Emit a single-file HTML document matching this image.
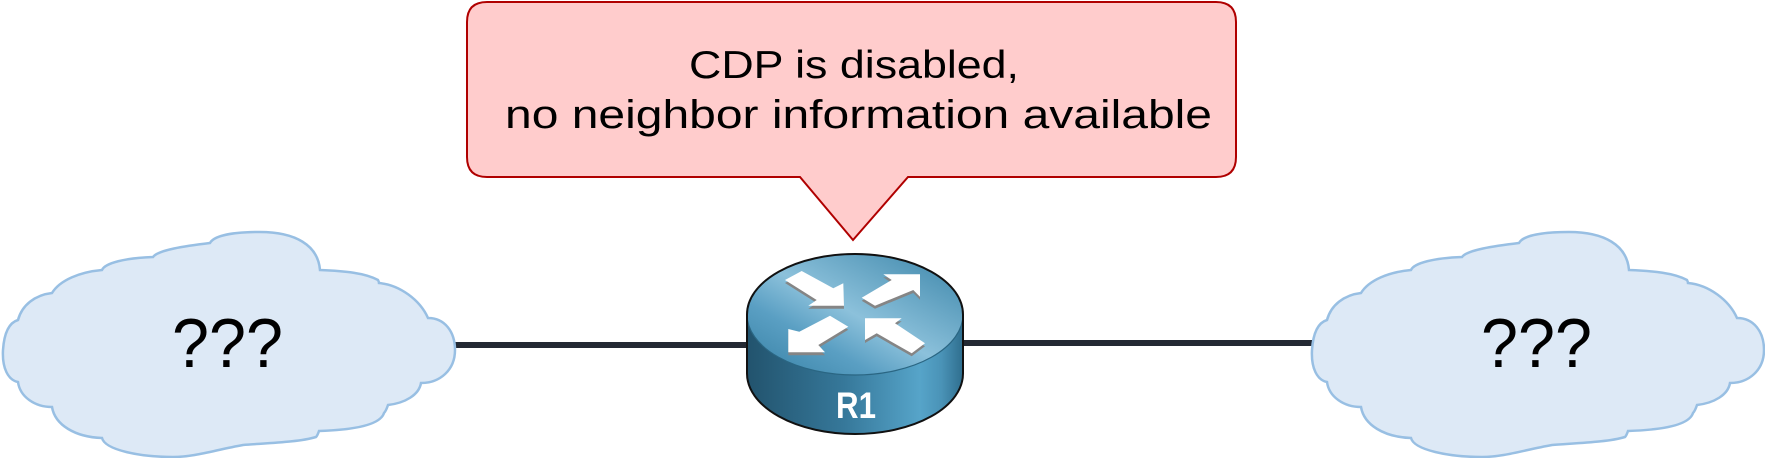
<!DOCTYPE html>
<html>
<head>
<meta charset="utf-8">
<style>
html,body{margin:0;padding:0;background:#fff;}
svg{display:block;}
</style>
</head>
<body>
<svg width="1765" height="458" viewBox="0 0 1765 458" xmlns="http://www.w3.org/2000/svg">
  <defs>
    <linearGradient id="side" x1="0" y1="0" x2="1" y2="0">
      <stop offset="0" stop-color="#22536d"/>
      <stop offset="0.45" stop-color="#36789a"/>
      <stop offset="0.8" stop-color="#56a4c9"/>
      <stop offset="0.9" stop-color="#4a93b7"/>
      <stop offset="1" stop-color="#2f6e8e"/>
    </linearGradient>
    <linearGradient id="top" x1="0" y1="1" x2="1" y2="0">
      <stop offset="0" stop-color="#3680a4"/>
      <stop offset="0.3" stop-color="#5a9fc3"/>
      <stop offset="0.5" stop-color="#8cc1db"/>
      <stop offset="1" stop-color="#3a84a8"/>
    </linearGradient>
    <g id="cloud">
      <path d="M 52,293
        C 60,280 80,272 102,270
        C 105,263 125,258 153,257
        C 158,250 185,246 210,243
        C 215,234 240,232 260,232
        C 295,232 318,245 320,270
        C 345,271 365,273 378,280
        C 379,282 379,283 379,283
        C 400,285 420,300 428,318
        C 445,318 455,332 455,350
        C 455,370 440,383 421,383
        C 419,395 405,403 388,405
        C 387,408 386,411 384,413
        C 380,426 350,430 319,431
        C 318,434 317,436 316,437
        C 300,442 270,443 243,445
        C 215,450 195,457 173,457
        C 140,457 105,450 102,438
        C 75,437 55,425 52,407
        C 35,407 20,397 18,382
        C 8,380 2,368 3,350
        C 4,335 8,323 18,320
        C 22,305 35,295 52,293 Z"
        fill="#dde9f6" stroke="#98bfe3" stroke-width="2.5"/>
    </g>
  </defs>

  <!-- connectors -->
  <line x1="450" y1="345" x2="752" y2="345" stroke="#232933" stroke-width="6"/>
  <line x1="958" y1="343" x2="1316" y2="343" stroke="#232933" stroke-width="6"/>

  <!-- clouds -->
  <use href="#cloud"/>
  <use href="#cloud" transform="translate(1309,0)"/>
  <text x="172" y="367" font-family="Liberation Sans, sans-serif" font-size="70" fill="#000" textLength="111" lengthAdjust="spacingAndGlyphs">???</text>
  <text x="1481" y="367" font-family="Liberation Sans, sans-serif" font-size="70" fill="#000" textLength="111" lengthAdjust="spacingAndGlyphs">???</text>

  <!-- callout -->
  <path d="M 487,2 H 1216 Q 1236,2 1236,22 V 157 Q 1236,177 1216,177 H 908 L 853,240 L 800,177 H 487 Q 467,177 467,157 V 22 Q 467,2 487,2 Z"
        fill="#ffcccc" stroke="#b00000" stroke-width="2"/>
  <text x="689" y="78" font-family="Liberation Sans, sans-serif" font-size="39" fill="#000" textLength="330" lengthAdjust="spacingAndGlyphs">CDP is disabled,</text>
  <text x="505" y="128" font-family="Liberation Sans, sans-serif" font-size="40" fill="#000" textLength="707" lengthAdjust="spacingAndGlyphs">no neighbor information available</text>

  <!-- router -->
  <path d="M 747,314.5 V 373.5 A 108,60.5 0 0 0 963,373.5 V 314.5 Z" fill="url(#side)"/>
  <ellipse cx="855" cy="314.5" rx="108" ry="60.5" fill="url(#top)"/>
  <path d="M 747,314.5 A 108,60.5 0 0 0 963,314.5" fill="none" stroke="#2a6683" stroke-width="1.2"/>
  <path d="M 747,314.5 A 108,60.5 0 0 1 963,314.5 V 373.5 A 108,60.5 0 0 1 747,373.5 Z" fill="none" stroke="#111" stroke-width="2"/>

  <!-- arrow shadows -->
  <g fill="#858585" transform="translate(0,3)">
    <polygon points="801.7,271 833.3,288.3 843.3,283.3 844,305.7 808.3,305.7 816.7,300 785,280"/>
    <polygon points="861.7,297.7 891.7,280 883.3,274.3 920,274.3 920,296.7 913.3,290 875,305.7"/>
    <polygon points="830,315.7 848.3,326.7 818.3,345 825,352.3 788.3,352.3 788.3,329 799.3,331.7"/>
    <polygon points="865,318.3 901.7,318.3 895,323.3 925,343.3 911.7,353.3 876.7,333.3 865,340"/>
  </g>
  <!-- arrows -->
  <g fill="#ffffff">
    <polygon points="801.7,271 833.3,288.3 843.3,283.3 844,305.7 808.3,305.7 816.7,300 785,280"/>
    <polygon points="861.7,297.7 891.7,280 883.3,274.3 920,274.3 920,296.7 913.3,290 875,305.7"/>
    <polygon points="830,315.7 848.3,326.7 818.3,345 825,352.3 788.3,352.3 788.3,329 799.3,331.7"/>
    <polygon points="865,318.3 901.7,318.3 895,323.3 925,343.3 911.7,353.3 876.7,333.3 865,340"/>
  </g>
  <text x="836" y="418" font-family="Liberation Sans, sans-serif" font-weight="bold" font-size="37" fill="#fff" textLength="40" lengthAdjust="spacingAndGlyphs">R1</text>
</svg>
</body>
</html>
